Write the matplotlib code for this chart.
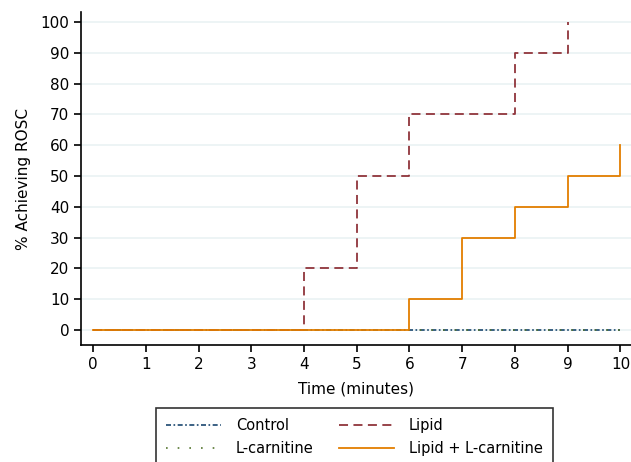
import matplotlib
matplotlib.use("Agg")
import matplotlib.pyplot as plt

# --- Data (step functions, value holds until next time point) ---
control_t = [0, 10]
control_y = [0, 0]
lcarn_t = [0, 10]
lcarn_y = [0, 0]
lipid_t = [0, 4, 5, 6, 8, 9]
lipid_y = [0, 20, 50, 70, 90, 100]
combo_t = [0, 6, 7, 8, 9, 10]
combo_y = [0, 10, 30, 40, 50, 60]

NAVY = "#1a476f"
GREEN = "#55752f"
MAROON = "#90353b"
ORANGE = "#e37e00"

plt.rcParams["font.family"] = ["DejaVu Sans"]

fig = plt.figure(figsize=(6.31, 4.62), dpi=100)
ax = fig.add_axes([0.1284, 0.2532, 0.8716, 0.7208])

ax.step(control_t, control_y, where="post", color=NAVY, lw=1.2,
        linestyle=(0, (3, 1.5, 1, 1.5)), label="Control")
ax.step(lcarn_t, lcarn_y, where="post", color=GREEN, lw=1.2,
        linestyle=(0, (1, 6)), label="L-carnitine")
ax.step(lipid_t, lipid_y, where="post", color=MAROON, lw=1.3,
        linestyle=(0, (5, 3)), label="Lipid")
ax.step(combo_t, combo_y, where="post", color=ORANGE, lw=1.3,
        label="Lipid + L-carnitine")

ax.set_xlim(-0.228, 10.2)
ax.set_ylim(-4.87, 103.2)
ax.set_xticks(range(0, 11))
ax.set_yticks(range(0, 101, 10))
ax.grid(axis="y", color="#eaf2f3", lw=1.2)
ax.set_axisbelow(True)

for side in ("top", "right"):
    ax.spines[side].set_visible(False)
for side in ("left", "bottom"):
    ax.spines[side].set_linewidth(1.2)
ax.tick_params(direction="out", length=5, width=1.2, labelsize=11)

ax.set_xlabel("Time (minutes)", fontsize=11, labelpad=7)
ax.set_ylabel("% Achieving ROSC", fontsize=11, labelpad=7)

leg = fig.legend(
    loc="upper left", bbox_to_anchor=(0.247, 0.117, 0.629, 0.0),
    mode="expand", ncol=2, frameon=True, fancybox=False,
    edgecolor="black", fontsize=10.5, handlelength=3.8, handletextpad=1.0,
    borderaxespad=0, borderpad=0.7, columnspacing=1.2, labelspacing=0.55,
)
leg.get_frame().set_linewidth(1.2)

fig.savefig("out.png", dpi=100)
